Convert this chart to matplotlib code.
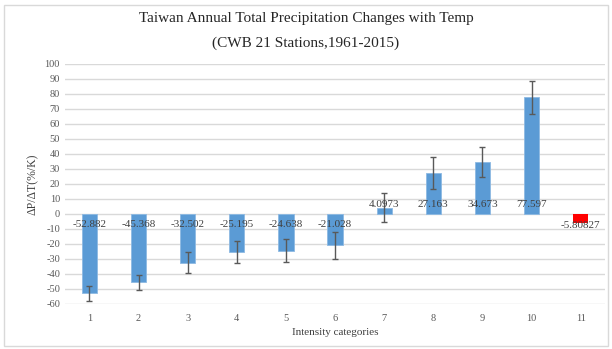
import matplotlib.pyplot as plt
import matplotlib.patches as mpatches

categories = [1, 2, 3, 4, 5, 6, 7, 8, 9, 10, 11]
values = [-52.882, -45.368, -32.502, -25.195, -24.638, -21.028, 4.0973, 27.163, 34.673, 77.597, -5.80827]
errors = [5, 5, 7, 7.3, 7.7, 9, 9.7, 10.5, 10, 11, 0]
labels = ["-52.882", "-45.368", "-32.502", "-25.195", "-24.638", "-21.028",
          "4.0973", "27.163", "34.673", "77.597", "-5.80827"]
colors = ["#5B9BD5"] * 10 + ["#FF0000"]

plt.rcParams['font.family'] = ['Liberation Serif', 'DejaVu Serif']
plt.rcParams['axes.unicode_minus'] = False

fig = plt.figure(figsize=(6.12, 3.49), dpi=100)
ax = fig.add_axes([0.106, 0.129, 0.883, 0.688])

# blue bars get error bars, the red one does not
ax.bar(categories[:10], values[:10], width=0.31, color=colors[:10], edgecolor="#8DB9E3", linewidth=0.6,
       zorder=2, yerr=errors[:10],
       error_kw=dict(ecolor="#595959", elinewidth=1.0, capsize=2.5, capthick=1.0))
ax.bar(categories[10:], values[10:], width=0.31, color=colors[10:], zorder=2)

for i, (c, v) in enumerate(zip(categories, values)):
    if i == 10:
        y = -7.8
    elif v < 0:
        y = -7.3
    else:
        y = 6.4
    ax.text(c, y, labels[i], ha="center", va="center", fontsize=8, color="#404040", zorder=3)

ax.set_xlim(0.5, 11.5)
ax.set_ylim(-60, 100)
ax.set_yticks(range(-60, 101, 10))
ax.set_xticks(categories)
ax.tick_params(axis="both", length=0, labelsize=7.5, colors="#595959")
ax.tick_params(axis="x", pad=7)
ax.grid(axis="y", color="#D9D9D9", linewidth=1.0, zorder=0)
ax.set_axisbelow(True)
for s in ax.spines.values():
    s.set_visible(False)

ax.set_ylabel("ΔP/ΔT(%/K)", fontsize=8.5, color="#404040", labelpad=4)
ax.set_xlabel("Intensity categories", fontsize=8, color="#404040", labelpad=4)

fig.text(0.5, 0.948, "Taiwan Annual Total Precipitation Changes with Temp", ha="center", va="center",
         fontsize=11, color="#262626")
fig.text(0.5, 0.877, "(CWB 21 Stations,1961-2015)", ha="center", va="center",
         fontsize=11, color="#262626")

# light frame around the figure
fig.patches.append(mpatches.Rectangle((0.006, 0.01), 0.988, 0.975, transform=fig.transFigure,
                                      fill=False, edgecolor="#D9D9D9", linewidth=1))

fig.savefig("out.png", dpi=100)
